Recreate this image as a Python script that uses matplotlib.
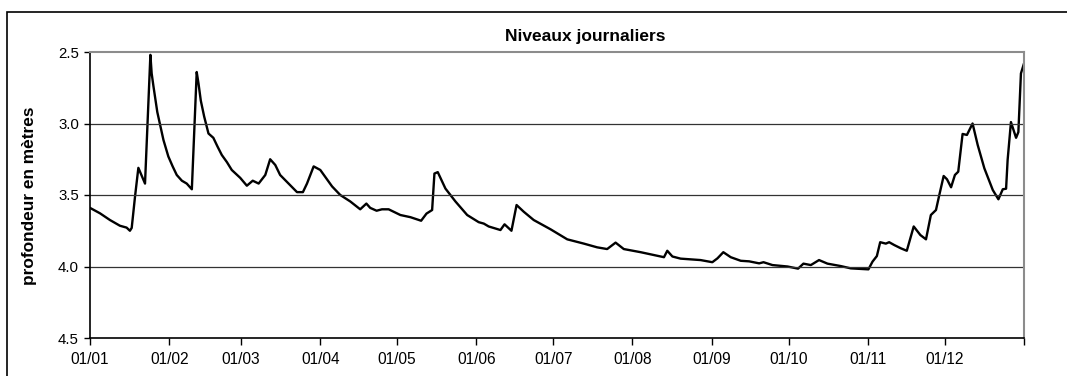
import matplotlib
matplotlib.use('Agg')
import matplotlib.pyplot as plt
from matplotlib.patches import Rectangle
import pandas as pd

# jour de l'année (0 = 01/01) et profondeur
jours = [0, 3.9, 7.8, 11.7, 14.3, 15.6, 16.3, 17.6, 18.9, 21.5, 23.6, 24.1, 24.8,
         25.4, 26.3, 27.4, 28.7, 30.6, 32.3, 33.9, 35.9, 37.8, 39.8,
         41.7, 42.4, 43.3, 44.6, 46.3, 48.2, 49.8, 51.5, 53.5, 55.4, 58.7, 61.3,
         63.6, 65.9, 68.5, 70.4,
         72.4, 74.3, 77.6, 80.9, 83.2, 84.8, 87.4, 90, 94.6, 97.8, 101.7, 105.6,
         108, 109.5, 112, 114.1, 116.7, 121.3, 125.2, 129.4, 131.5, 133.7, 134.6,
         135.9, 138.9, 142.8, 147.4, 151.9, 153.9, 155.8, 160.4, 162, 164.7, 166.7,
         169.5, 173.4, 180, 186.5, 193, 198.2, 202.1, 205.4, 208.6, 215.2, 220.4,
         224.3, 225.6, 227.6, 230.8, 234.7, 238.6, 243.2, 245.2, 247.5, 250.4,
         254.3, 257.6, 261.5, 263.2, 266.7, 272.6, 276.7, 278.8, 281.7, 284.9,
         288.2, 293.4, 297.3, 304.2, 305.8, 307.5, 308.8, 311, 312.3, 314.3,
         316.9, 319.2, 320.4, 321.9, 324.5, 326.7, 328.6, 330.6, 331.9, 333.6,
         334.9, 336.5, 338, 339.3, 341, 342.7, 344.9, 346.9, 349.5, 352.8, 355,
         356.7, 358, 358.6, 359.9, 361.9, 362.8, 363.8, 365]
profondeur = [3.59, 3.628, 3.675, 3.715, 3.728, 3.75, 3.73, 3.51, 3.31, 3.42, 2.52, 2.65, 2.74,
              2.81, 2.92, 3.01, 3.115, 3.23, 3.30, 3.36, 3.40, 3.42, 3.46,
              2.64, 2.72, 2.84, 2.95, 3.07, 3.10, 3.16, 3.22, 3.27, 3.325, 3.38, 3.435,
              3.40, 3.42, 3.36, 3.25,
              3.29, 3.36, 3.42, 3.48, 3.48, 3.42, 3.30, 3.325, 3.44, 3.50, 3.545, 3.60,
              3.56, 3.59, 3.61, 3.60, 3.60, 3.64, 3.655, 3.68, 3.63, 3.605, 3.35,
              3.34, 3.455, 3.545, 3.64, 3.69, 3.70, 3.72, 3.745, 3.705, 3.75, 3.57,
              3.617, 3.675, 3.74, 3.81, 3.84, 3.866, 3.878, 3.833, 3.878, 3.90, 3.92,
              3.935, 3.89, 3.93, 3.945, 3.95, 3.955, 3.97, 3.943, 3.90, 3.935,
              3.96, 3.964, 3.978, 3.97, 3.99, 4.00, 4.015, 3.98, 3.99, 3.955,
              3.98, 3.997, 4.013, 4.02, 3.966, 3.927, 3.83, 3.84, 3.83, 3.85,
              3.873, 3.89, 3.815, 3.72, 3.78, 3.81, 3.64, 3.605, 3.50, 3.367,
              3.39, 3.446, 3.36, 3.337, 3.073, 3.08, 3.00, 3.15, 3.313, 3.465, 3.53,
              3.46, 3.456, 3.255, 2.99, 3.10, 3.06, 2.65, 2.58]

debut = pd.Timestamp('2003-01-01')
dates = debut + pd.to_timedelta(jours, unit='D')

plt.rcParams['font.family'] = ['Liberation Sans', 'DejaVu Sans']

fig = plt.figure(figsize=(10.67, 3.76), dpi=100)
ax = fig.add_axes([90 / 1067, 1 - 338 / 376, 934 / 1067, 286 / 376])

ax.plot(dates, profondeur, color='black', lw=1.7,
        solid_joinstyle='round', solid_capstyle='round')

ax.set_ylim(4.5, 2.5)
ax.set_xlim(debut, pd.Timestamp('2004-01-01'))
ax.set_yticks([2.5, 3.0, 3.5, 4.0, 4.5])
ax.set_yticklabels(['2.5', '3.0', '3.5', '4.0', '4.5'], fontsize=10.8)
for y in [3.0, 3.5, 4.0]:
    ax.axhline(y, color='#333333', lw=0.9)

mois = pd.date_range('2003-01-01', '2004-01-01', freq='MS')
ax.set_xticks(mois)
ax.set_xticklabels([d.strftime('%d/%m') for d in mois[:-1]] + [''], fontsize=11.2)

ax.tick_params(axis='both', direction='out', length=4, width=1, colors='black', pad=4)
ax.tick_params(axis='x', length=5, pad=5)
ax.spines['left'].set_color('black')
ax.spines['bottom'].set_color('black')
ax.spines['left'].set_linewidth(1.2)
ax.spines['bottom'].set_linewidth(1.2)
ax.spines['top'].set_color('#8c8c8c')
ax.spines['right'].set_color('#8c8c8c')
ax.spines['top'].set_linewidth(1.5)
ax.spines['right'].set_linewidth(1.5)

fig.text(585 / 1067, 1 - 37 / 376, 'Niveaux journaliers', ha='center', va='center',
         fontsize=12.5, fontweight='bold')
fig.text(30 / 1067, 1 - 196 / 376, 'profondeur en mètres', ha='center', va='center',
         rotation=90, fontsize=12.4, fontweight='bold')

# cadre extérieur
fig.add_artist(Rectangle((7 / 1067, -0.2), 1.2, 0.2 + 1 - 12 / 376,
                         transform=fig.transFigure, fill=False,
                         edgecolor='black', lw=1.2))

fig.savefig('out.png', dpi=100)
